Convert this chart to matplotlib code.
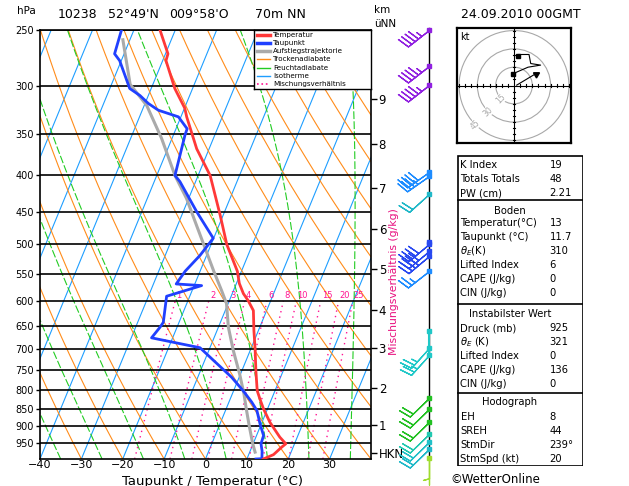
import numpy as np
import matplotlib
matplotlib.use("Agg")
import matplotlib.pyplot as plt
from matplotlib.patches import Circle, Rectangle

W, H = 629, 486
SKEW = 30.8  # degC of horizontal shift per ln(1000/p)

# ---------------- data ----------------
p_temp = [250, 270, 276, 302, 322, 331, 367, 400, 455, 500, 545, 567, 586, 599, 619,
          660, 700, 752, 802, 824, 850, 888, 932, 952, 963, 986, 1000]
t_temp = [-53.7, -49.4, -49.2, -44.3, -39.9, -38.6, -33.0, -27.1, -20.7, -16.2, -11.0,
          -9.3, -7.3, -5.5, -3.2, -1.1, 1.0, 3.4, 5.7, 7.2, 9.0, 11.9, 15.8, 17.9, 17.2, 16.0, 14.0]

p_dew = [250, 270, 276, 302, 309, 317, 324, 331, 344, 351, 400, 408, 450, 490, 518, 545,
         568, 571, 591, 643, 653, 676, 698, 727, 768, 802, 832, 855, 893, 927, 952, 975, 999, 1000]
t_dew = [-63.0, -62.3, -60.4, -55.2, -52.0, -49.2, -46.1, -40.6, -37.3, -37.2, -35.6, -33.8,
         -26.7, -20.1, -21.6, -23.6, -24.5, -18.2, -25.6, -23.8, -24.1, -25.1, -12.4, -7.9,
         -1.8, 2.3, 5.5, 7.6, 9.7, 11.7, 11.9, 12.9, 13.6, 12.2]

p_parcel = [258, 298, 319, 355, 400, 431, 471, 545, 580, 605, 653, 704, 760, 810, 855, 901, 952, 978]
t_parcel = [-61.7, -55.5, -49.4, -42.5, -35.6, -30.5, -25.3, -16.7, -12.9, -10.4, -7.6, -4.1,
            -0.2, 2.8, 5.1, 7.4, 9.9, 11.3]

p_levels = [250, 300, 350, 400, 450, 500, 550, 600, 650, 700, 750, 800, 850, 900, 950]
x_ticks = [-40, -30, -20, -10, 0, 10, 20, 30]
p_km = [312.5, 361, 416.6, 476, 541, 618, 699, 796, 896, 980]
km_labels = ["9", "8", "7", "6", "5", "4", "3", "2", "1", "HKN"]
mix_ratios = [1, 2, 3, 4, 6, 8, 10, 15, 20, 25]

wind_p = [250, 281, 299, 395, 401, 425, 496, 499, 511, 519, 545, 662, 699, 715, 820, 850, 886, 923, 946, 968, 997]
wind_dir = [232, 232, 232, 235, 235, 228, 0, 230, 230, 230, 232, 0, 222, 222, 226, 226, 226, 226, 226, 226, 180]
wind_spd = [45, 45, 45, 40, 35, 20, 0, 40, 40, 40, 25, 0, 25, 25, 20, 20, 20, 20, 20, 20, 5]
wind_col = ["#9020E0", "#9020E0", "#9020E0", "#1E8CFF", "#1E8CFF", "#20B8C8", "#2848F0",
            "#2848F0", "#2848F0", "#2848F0", "#1E8CFF", "#20C8C8", "#20C8C8", "#20C8C8",
            "#22C022", "#22C022", "#22C022", "#20C8B0", "#20C0C8", "#20B8C8", "#A0DC30"]

hodo_u1 = [2.2, 17.7]
hodo_v1 = [0.3, 9.6]
hodo_u2 = [-0.5, 11.5, 21.8, 13.7, 12.3, 3.3, 3.3]
hodo_v2 = [9.8, 15.0, 16.7, 18.0, 25.4, 25.4, 24.0]
hodo_rings = [15, 30, 45]

tab1 = [("K Index", "19"), ("Totals Totals", "48"), ("PW (cm)", "2.21")]
tab2 = [("Temperatur(°C)", "13"), ("Taupunkt (°C)", "11.7"), (r"$\theta_E$(K)", "310"),
        ("Lifted Index", "6"), ("CAPE (J/kg)", "0"), ("CIN (J/kg)", "0")]
tab3 = [("Druck (mb)", "925"), (r"$\theta_E$ (K)", "321"), ("Lifted Index", "0"),
        ("CAPE (J/kg)", "136"), ("CIN (J/kg)", "0")]
tab4 = [("EH", "8"), ("SREH", "44"), ("StmDir", "239°"), ("StmSpd (kt)", "20")]

# ---------------- helpers ----------------
def skew(t, p):
    return np.asarray(t, float) + SKEW * np.log(1000.0 / np.asarray(p, float))

def fax(x0, y0, x1, y1, **kw):
    return fig.add_axes([x0 / W, 1 - y1 / H, (x1 - x0) / W, (y1 - y0) / H], **kw)

def ftext(x, y, s, **kw):
    return fig.text(x / W, 1 - y / H, s, **kw)

def moist_adiabat(t0, pp):
    Rd, cp, Lv, eps = 287.04, 1005.7, 2.501e6, 0.622
    def f(T, p):
        tc = T - 273.15
        es = 6.112 * np.exp(17.67 * tc / (tc + 243.5))
        rs = eps * es / (p - es)
        return (Rd * T + Lv * rs) / (cp + Lv * Lv * rs * eps / (Rd * T * T)) / p
    T = t0 + 273.15
    out = [T]
    for i in range(1, len(pp)):
        p = pp[i - 1]
        dp = pp[i] - pp[i - 1]
        k1 = f(T, p)
        k2 = f(T + 0.5 * dp * k1, p + 0.5 * dp)
        k3 = f(T + 0.5 * dp * k2, p + 0.5 * dp)
        k4 = f(T + dp * k3, p + dp)
        T = T + dp * (k1 + 2 * k2 + 2 * k3 + k4) / 6
        out.append(T)
    return np.array(out) - 273.15

fig = plt.figure(figsize=(W / 100, H / 100), dpi=100)
fig.patch.set_facecolor("white")

# ---------------- main skew-T ----------------
ax = fax(40, 30, 371, 459)
ax.set_yscale("log")
ax.set_xlim(-40, 40)
ax.set_ylim(1000, 250)

pp = np.geomspace(1000, 245, 300)
for t in range(-130, 50, 10):
    ax.plot(skew(t, pp), pp, color="#1E9EFF", lw=0.8, zorder=1)
for t in range(-40, 140, 10):
    th = t + 273.15
    ax.plot(skew(th * (pp / 1000.0) ** 0.2857 - 273.15, pp), pp, color="#FF8C1A", lw=0.8, zorder=1)
for t in range(-35, 45, 10):
    ax.plot(skew(moist_adiabat(t, pp), pp), pp, color="#22CC22", lw=0.8,
            dashes=(7, 2), zorder=1)
pm = np.geomspace(1000, 600, 60)
for w in mix_ratios:
    e = w * pm / (622.0 + w)
    le = np.log(e / 6.112)
    td = 243.5 * le / (17.67 - le)
    ax.plot(skew(td, pm), pm, color="#FF1493", lw=1.0, ls=(0, (1, 3)), zorder=1)
    e5 = w * 590 / (622.0 + w)
    l5 = np.log(e5 / 6.112)
    ax.text(skew(243.5 * l5 / (17.67 - l5), 590), 590, str(w), color="#FF1493",
            fontsize=6, ha="left", va="center", zorder=3)

ax.hlines(p_levels, -40, 40, color="black", lw=1.2, zorder=2)

ax.plot(skew(t_parcel, p_parcel), p_parcel, color="#AAAAAA", lw=2.2, zorder=4)
ax.plot(skew(t_dew, p_dew), p_dew, color="#2040FF", lw=2.0, zorder=5)
ax.plot(skew(t_temp, p_temp), p_temp, color="#FF3838", lw=2.0, zorder=6)

ax.set_yticks(p_levels)
ax.set_yticklabels([str(p) for p in p_levels], fontsize=7)
ax.yaxis.set_minor_locator(matplotlib.ticker.NullLocator())
ax.set_xticks(x_ticks)
ax.set_xticklabels(["\u2212" + str(-x) if x < 0 else str(x) for x in x_ticks], fontsize=8)
ax.tick_params(axis="y", length=3, width=1, pad=1.5, direction="out")
ax.tick_params(axis="x", length=0, pad=0.5)
for s in ax.spines.values():
    s.set_linewidth(1.2)

ax2 = ax.twinx()
ax2.set_yscale("log")
ax2.set_ylim(1000, 250)
ax2.set_yticks(p_km)
ax2.set_yticklabels(km_labels, fontsize=8.5)
ax2.yaxis.set_minor_locator(matplotlib.ticker.NullLocator())
ax2.tick_params(axis="y", length=4, width=1, pad=1.5)
for s in ax2.spines.values():
    s.set_visible(False)

# legend
lax = fax(254, 30, 371, 89)
lax.set_xlim(254, 371)
lax.set_ylim(89, 30)
lax.set_xticks([])
lax.set_yticks([])
for s in lax.spines.values():
    s.set_linewidth(1.0)
leg_items = [("Temperatur", "#FF3838", 2.5, "-"), ("Taupunkt", "#2040FF", 2.5, "-"),
             ("Aufstiegstrajektorie", "#AAAAAA", 2.5, "-"), ("Trockenadiabate", "#FF8C1A", 1.0, "-"),
             ("Feuchtadiabate", "#22CC22", 1.0, "-"), ("Isotherme", "#1E9EFF", 1.0, "-"),
             ("Mischungsverhältnis", "#FF1493", 1.2, ":")]
for i, (lab, c, lw, ls) in enumerate(leg_items):
    yy = 34.8 + i * 8.2
    lax.plot([256.5, 270], [yy, yy], color=c, lw=lw, ls=ls)
    lax.text(273, yy, lab, fontsize=5.1, va="center", ha="left")

# ---------------- wind column ----------------
wax = fax(390, 30, 470, 459)
wax.set_xlim(390, 470)
wax.set_yscale("log")
wax.set_ylim(1000, 250)
wax.axis("off")
wax.plot([429, 429], [248, 997], color="black", lw=1.0, clip_on=False)
wax.plot([429, 429], [395, 401], color="#1E8CFF", lw=2, clip_on=False)
wax.plot([429, 429], [662, 715], color="#20C8C8", lw=1.5, clip_on=False)
wax.plot([429, 429], [997, 1062], color="#A0DC30", lw=1.0, clip_on=False)
for p, d, s, c in zip(wind_p, wind_dir, wind_spd, wind_col):
    if s > 0:
        u = -s * np.sin(np.radians(d))
        v = -s * np.cos(np.radians(d))
        wax.barbs([429], [p], [u], [v], color=c, length=6.2, linewidth=0.9,
                  sizes=dict(spacing=0.16, height=0.45, width=0.25), clip_on=False)
    wax.plot([429], [p], marker="s", ms=2.6, color=c, clip_on=False, zorder=5)

# ---------------- hodograph ----------------
hax = fax(457, 28, 571, 143)
hax.set_xlim(-46.7, 46.7)
hax.set_ylim(-47.1, 47.1)
hax.set_xticks([])
hax.set_yticks([])
for s in hax.spines.values():
    s.set_linewidth(1.6)
for r in hodo_rings:
    hax.add_patch(Circle((0, 0), r, fill=False, ec="#A8A8A8", lw=0.8))
    ang = np.radians(225)
    hax.text(r * np.cos(ang), r * np.sin(ang), str(r), color="#A8A8A8", fontsize=5.5,
             rotation=45, ha="center", va="center",
             bbox=dict(fc="white", ec="none", pad=0.3))
hax.axhline(0, color="black", lw=0.8)
hax.axvline(0, color="black", lw=0.8)
for k in range(-45, 50, 5):
    if k != 0:
        hax.plot([k, k], [-1.2, 1.2], color="black", lw=0.8)
        hax.plot([-1.2, 1.2], [k, k], color="black", lw=0.8)
hax.plot(hodo_u1, hodo_v1, color="black", lw=0.8)
hax.plot([hodo_u1[-1]], [hodo_v1[-1]], marker=(3, 0, -60), ms=5, color="black")
hax.plot(hodo_u2, hodo_v2, color="black", lw=0.8)
hax.plot([hodo_u2[0]], [hodo_v2[0]], marker="s", ms=2.8, color="black")
hax.plot([hodo_u2[-1]], [hodo_v2[-1]], marker="s", ms=2.2, color="black")
hax.text(-44, 44, "kt", fontsize=7, ha="left", va="top")

# ---------------- table ----------------
tax = fax(457, 155, 583, 466)
tax.set_xlim(457, 583)
tax.set_ylim(466, 155)
tax.axis("off")
tax.add_patch(Rectangle((457.5, 155.5), 125, 310, fill=False, ec="black", lw=1.2))
for yl in [200, 304, 392.5]:
    tax.plot([457.5, 582.5], [yl, yl], color="black", lw=1.2)
fs = 7.2
def rows(items, y0):
    for i, (a, b) in enumerate(items):
        tax.text(460.5, y0 + i * 14, a, fontsize=fs, va="center", ha="left")
        tax.text(549.5, y0 + i * 14, b, fontsize=fs, va="center", ha="left")
rows(tab1, 165)
tax.text(510, 211, "Boden", fontsize=fs, va="center", ha="center")
rows(tab2, 223)
tax.text(510, 314, "Instabilster Wert", fontsize=fs, va="center", ha="center")
rows(tab3, 328)
tax.text(510, 402, "Hodograph", fontsize=fs, va="center", ha="center")
rows(tab4, 416.5)

# ---------------- texts ----------------
ftext(17, 11, "hPa", fontsize=7.5, va="center", ha="left")
ftext(58, 15, "10238", fontsize=9, va="center")
ftext(108, 15, "52°49'N", fontsize=9, va="center")
ftext(169, 15, "009°58'O", fontsize=9, va="center")
ftext(255, 15, "70m NN", fontsize=9, va="center")
ftext(374, 10, "km", fontsize=7.5, va="center")
ftext(374, 24, "üNN", fontsize=7.5, va="center")
ftext(461, 15, "24.09.2010 00GMT", fontsize=9, va="center")
ftext(213, 481, "Taupunkt / Temperatur (°C)", fontsize=9.5, va="center", ha="center")
ftext(394, 282, "Mischungsverhältnis (g/kg)", fontsize=7.8, va="center", ha="center",
      rotation=90, color="#E8107F")
ftext(450, 479, "©WetterOnline", fontsize=8.5, va="center", ha="left")

fig.savefig("out.png", dpi=100, facecolor="white")
